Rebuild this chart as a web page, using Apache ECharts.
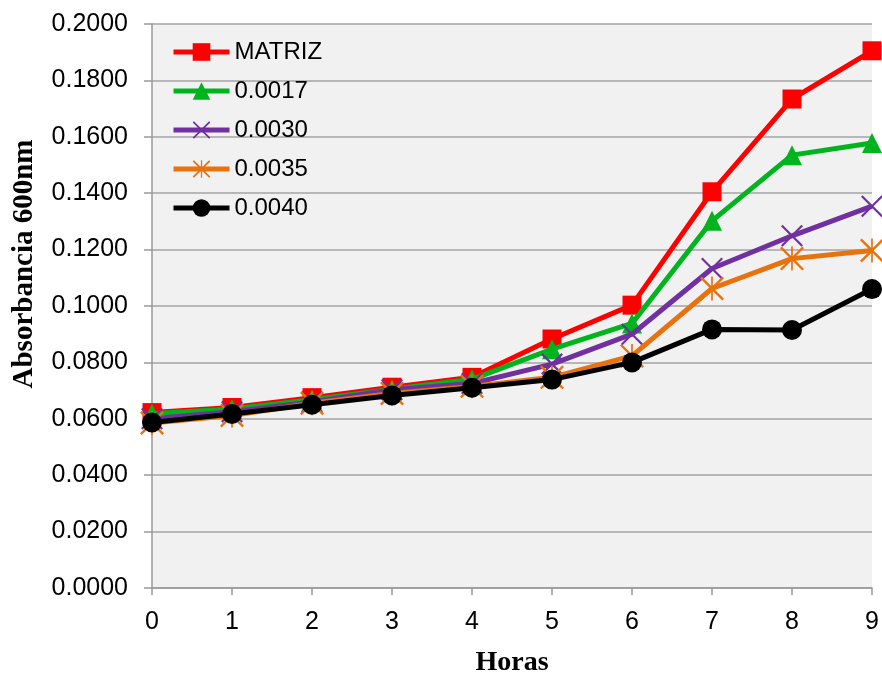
<!DOCTYPE html>
<html>
<head>
<meta charset="utf-8">
<script src="https://cdn.jsdelivr.net/npm/echarts@6/dist/echarts.min.js"></script>
<style>html,body{margin:0;padding:0;background:#fff;}#c{width:882px;height:682px;}</style>
</head>
<body>
<div id="c"></div>
<script>
const hours = ['0','1','2','3','4','5','6','7','8','9'];
const seriesNames = ['MATRIZ','0.0017','0.0030','0.0035','0.0040'];
const matriz = [0.0622, 0.0640, 0.0675, 0.0712, 0.0747, 0.0883, 0.1003, 0.1405, 0.1734, 0.1905];
const c0017  = [0.0618, 0.0635, 0.0668, 0.0705, 0.0740, 0.0847, 0.0938, 0.1302, 0.1535, 0.1578];
const c0030  = [0.0600, 0.0625, 0.0660, 0.0703, 0.0725, 0.0794, 0.0900, 0.1133, 0.1249, 0.1354];
const c0035  = [0.0585, 0.0612, 0.0655, 0.0690, 0.0715, 0.0747, 0.0823, 0.1062, 0.1168, 0.1197];
const c0040  = [0.0587, 0.0617, 0.0650, 0.0683, 0.0710, 0.0739, 0.0800, 0.0917, 0.0915, 0.1060];
const yTicks = ['0.0000','0.0200','0.0400','0.0600','0.0800','0.1000','0.1200','0.1400','0.1600','0.1800','0.2000'];

const crossPath = 'path://M0,1.4L1.4,0L10,8.6L18.6,0L20,1.4L11.4,10L20,18.6L18.6,20L10,11.4L1.4,20L0,18.6L8.6,10Z';
const starPath = 'path://M0,1.4L1.4,0L10,8.6L18.6,0L20,1.4L11.4,10L20,18.6L18.6,20L10,11.4L1.4,20L0,18.6L8.6,10Z M9.3,0L10.7,0L10.7,20L9.3,20Z';

const data = [matriz, c0017, c0030, c0035, c0040];
const colors = ['#ff0000', '#00b41e', '#7030a0', '#e8720c', '#000000'];
const symbols = ['rect', 'triangle', crossPath, starPath, 'circle'];
const sizes = [19, 20, 22, 24, 20];

const font = '"Liberation Sans", Arial, sans-serif';
const chart = echarts.init(document.getElementById('c'), null, {renderer: 'canvas'});
chart.setOption({
  animation: false,
  backgroundColor: '#ffffff',
  grid: {left: 152, right: 10, top: 24, bottom: 88, show: true, backgroundColor: '#f1f1f1', borderWidth: 0},
  legend: {
    orient: 'vertical', left: 166, top: 35,
    itemWidth: 56, itemHeight: 22, itemGap: 15,
    lineStyle: {width: 5},
    textStyle: {fontFamily: font, fontSize: 24, color: '#000'},
    data: seriesNames
  },
  xAxis: {
    type: 'category', data: hours, boundaryGap: false,
    name: 'Horas', nameLocation: 'middle', nameGap: 61,
    nameTextStyle: {fontFamily: '"Liberation Serif", "Times New Roman", serif', fontWeight: 'bold', fontSize: 28, color: '#000'},
    axisLine: {lineStyle: {color: '#9a9a9a', width: 1.5}},
    axisTick: {show: true, alignWithLabel: true, length: 7, lineStyle: {color: '#9a9a9a', width: 1.5}},
    axisLabel: {fontFamily: font, fontSize: 25, color: '#000', margin: 22},
    splitLine: {show: false}
  },
  yAxis: {
    type: 'value', min: 0, max: 0.2, interval: 0.02,
    axisLine: {show: true, lineStyle: {color: '#9a9a9a', width: 1.5}},
    axisTick: {show: true, length: 8, lineStyle: {color: '#9a9a9a', width: 1.5}},
    axisLabel: {fontFamily: font, fontSize: 25, color: '#000', margin: 24,
      formatter: function (v) { return yTicks[Math.round(v / 0.02)]; }},
    splitLine: {show: true, lineStyle: {color: '#a3a3a3', width: 1.5}}
  },
  graphic: [{
    type: 'text', x: 25, y: 264, rotation: Math.PI / 2,
    style: {text: 'Absorbancia 600nm', fontFamily: '"Liberation Serif", "Times New Roman", serif',
      fontWeight: 'bold', fontSize: 29, fill: '#000', align: 'center', verticalAlign: 'middle'}
  }],
  series: seriesNames.map(function (n, i) {
    return {
      name: n, type: 'line', data: data[i],
      symbol: symbols[i], symbolSize: sizes[i], showAllSymbol: true,
      lineStyle: {color: colors[i], width: 5},
      itemStyle: {color: colors[i], borderWidth: 0},
      z: 2 + i
    };
  })
});
</script>
</body>
</html>
